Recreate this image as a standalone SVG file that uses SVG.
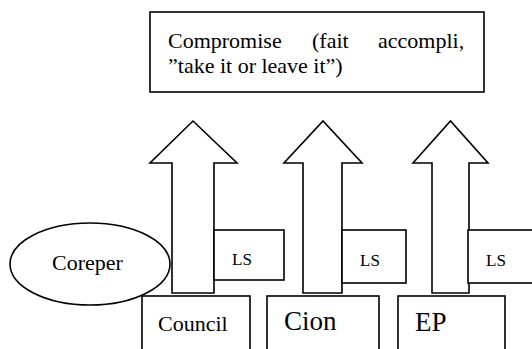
<svg xmlns="http://www.w3.org/2000/svg" width="532" height="349" viewBox="0 0 532 349">
  <style>
    .shape { fill: #fff; stroke: #000; stroke-width: 1.6; }
    text { font-family: 'Times New Roman', 'Nimbus Roman', Tinos, 'Liberation Serif', 'DejaVu Serif', serif; fill: #000; }
    .big { font-size: 22px; }
    .huge { font-size: 27px; }
    .small { font-size: 17px; }
  </style>
  <rect width="532" height="349" fill="#fff"/>

  <!-- outcome box -->
  <g id="compromise">
    <rect class="shape" x="150" y="12" width="334" height="80" stroke-width="2"/>
    <text class="big" y="48"><tspan x="168">Compromise</tspan><tspan x="312">(fait</tspan><tspan x="378">accompli,</tspan></text>
    <text class="big" x="168" y="73">”take it or leave it”)</text>
  </g>

  <!-- upward block arrows -->
  <g id="connectors">
    <polygon class="shape" points="172,293 172,163 150,163 193,121 237,163 214,163 214,293"/>
    <polygon class="shape" points="303,293 303,163 284,163 323,121 362,163 342,163 342,293"/>
    <polygon class="shape" points="432,293 432,163 413,163 450.5,121 488,163 469,163 469,293"/>
  </g>

  <g id="ls1">
    <rect class="shape" x="214" y="230" width="70" height="50"/>
    <text class="small" x="232" y="265">LS</text>
  </g>
  <g id="ls2">
    <rect class="shape" x="342" y="230" width="64" height="53"/>
    <text class="small" x="360" y="266">LS</text>
  </g>
  <g id="ls3">
    <rect class="shape" x="468" y="230" width="80" height="53"/>
    <text class="small" x="486" y="266">LS</text>
  </g>

  <g id="council">
    <rect class="shape" x="142" y="296" width="108" height="70"/>
    <text class="big" x="158" y="331">Council</text>
  </g>
  <g id="cion">
    <rect class="shape" x="267" y="296" width="112" height="70"/>
    <text class="huge" x="284" y="330">Cion</text>
  </g>
  <g id="ep">
    <rect class="shape" x="398" y="296" width="107" height="70"/>
    <text class="huge" x="415" y="331">EP</text>
  </g>

  <g id="coreper">
    <ellipse class="shape" cx="90" cy="264" rx="80" ry="41"/>
    <text class="big" x="52" y="270">Coreper</text>
  </g>
</svg>
